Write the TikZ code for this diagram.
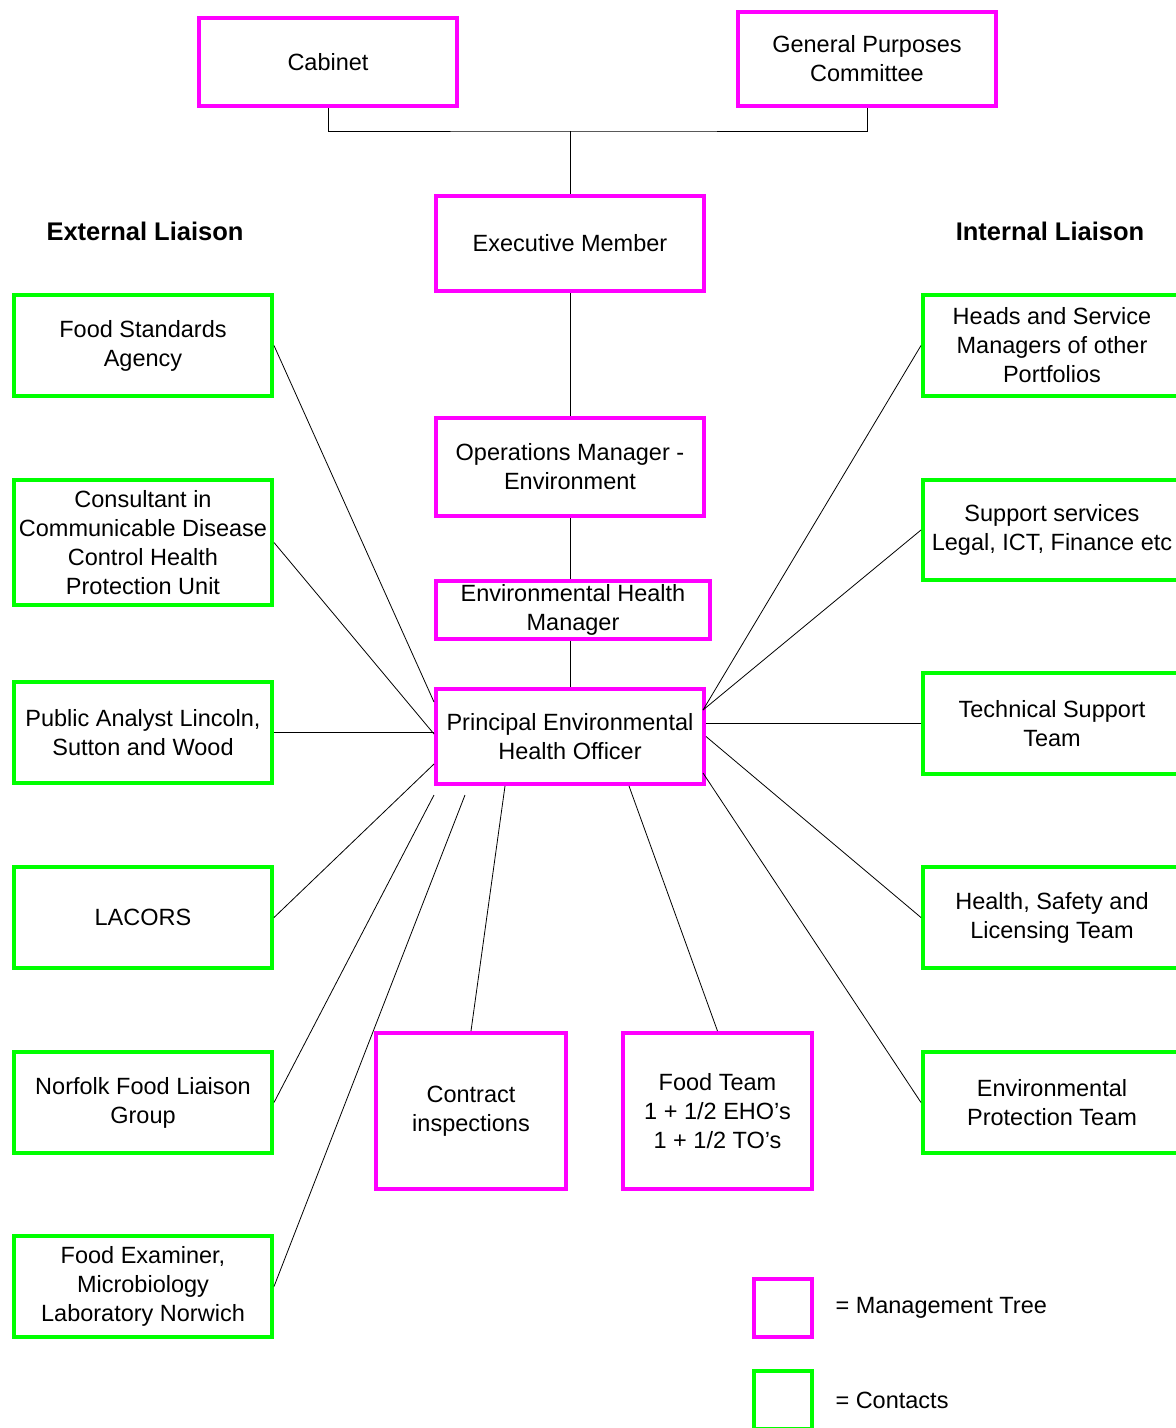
\documentclass[tikz,border=0pt]{standalone}
\usepackage{fontspec}
\setmainfont{Liberation Sans}
\definecolor{mgmtpink}{HTML}{FF00FF}
\definecolor{contactgreen}{HTML}{00FF00}

\begin{document}
\begin{tikzpicture}[x=1pt,y=-1pt,
  mgmt/.style={draw=mgmtpink,line width=4pt,align=center,inner sep=0pt,font=\fontsize{23.5}{29}\selectfont},
  contact/.style={draw=contactgreen,line width=4pt,align=center,inner sep=0pt,minimum width=258pt,font=\fontsize{23.5}{29}\selectfont},
  heading/.style={font=\fontsize{25.5}{30}\selectfont\bfseries},
  link/.style={line width=0.8pt}]
  \useasboundingbox (0,0) rectangle (1176,1428);

  \node[mgmt,minimum width=258pt,minimum height=88pt] (cabinet) at (328,62) {Cabinet};
  \node[mgmt,minimum width=258pt,minimum height=94pt] (gpc) at (867,59) {General Purposes\\Committee};
  \node[mgmt,minimum width=268pt,minimum height=95pt] (exec) at (570,243.5) {Executive Member};
  \node[mgmt,minimum width=268pt,minimum height=98pt] (opsmgr) at (570,467) {Operations Manager -\\Environment};
  \node[mgmt,minimum width=274pt,minimum height=58pt] (ehm) at (573,610) {Environmental Health\\Manager};
  \node[mgmt,minimum width=268pt,minimum height=95pt] (peho) at (570,736.5) {Principal Environmental\\Health Officer};
  \node[mgmt,minimum width=190pt,minimum height=156pt] (contract) at (471,1111) {Contract\\inspections};
  \node[mgmt,minimum width=189pt,minimum height=156pt] (foodteam) at (717.5,1111) {Food Team\\1 + 1/2 EHO's\\1 + 1/2 TO's};

  \node[heading] (extl) at (145,231) {External Liaison};
  \node[heading] (intl) at (1050,231) {Internal Liaison};

  \node[contact,minimum height=101pt] (fsa) at (143,345.5) {Food Standards\\Agency};
  \node[contact,minimum height=125pt] (ccdc) at (143,542.5) {Consultant in\\Communicable Disease\\Control Health\\Protection Unit};
  \node[contact,minimum height=101pt] (analyst) at (143,732.5) {Public Analyst Lincoln,\\Sutton and Wood};
  \node[contact,minimum height=101pt] (lacors) at (143,917.5) {LACORS};
  \node[contact,minimum height=101pt] (norfolk) at (143,1102.5) {Norfolk Food Liaison\\Group};
  \node[contact,minimum height=101pt] (examiner) at (143,1286.5) {Food Examiner,\\Microbiology\\Laboratory Norwich};

  \node[contact,minimum height=101pt] (heads) at (1052,345.5) {Heads and Service\\Managers of other\\Portfolios};
  \node[contact,minimum height=100pt] (support) at (1052,530) {Support services\\Legal, ICT, Finance etc};
  \node[contact,minimum height=101pt] (techteam) at (1052,723.5) {Technical Support\\Team};
  \node[contact,minimum height=101pt] (hslteam) at (1052,917.5) {Health, Safety and\\Licensing Team};
  \node[contact,minimum height=101pt] (envteam) at (1052,1102.5) {Environmental\\Protection Team};

  \node[mgmt,minimum width=58pt,minimum height=58pt] (keymgmt) at (783,1308) {};
  \node[contact,minimum width=58pt,minimum height=58pt] (keycontact) at (783,1400) {};
  \node[anchor=west,font=\fontsize{23.5}{29}\selectfont] (keymgmttext) at (832,1308) {= Management Tree};
  \node[anchor=west,font=\fontsize{23.5}{29}\selectfont] (keycontacttext) at (832,1400) {= Contacts};

  \coordinate (join) at (570,131);
  \draw[link] (cabinet.south) |- (join) -| (gpc.south);
  \draw[link] (join) -- (exec.north);
  \draw[link] (exec.south) -- (opsmgr.north);
  \draw[link] (opsmgr.south) -- (opsmgr.south |- ehm.north);
  \draw[link] (ehm.south -| peho.north) -- (peho.north);

  \draw[link] (fsa.east) -- ([yshift=34.5pt]peho.west);
  \draw[link] (ccdc.east) -- ([yshift=2.5pt]peho.west);
  \draw[link] (analyst.east) -- (analyst.east -| peho.west);
  \draw[link] (lacors.east) -- ([yshift=-27.5pt]peho.west);
  \draw[link] (norfolk.east) -- ([yshift=-9pt]peho.south west);
  \draw[link] (examiner.east) -- ([xshift=31pt,yshift=-9pt]peho.south west);
  \draw[link] (contract.north) -- ([xshift=71pt]peho.south west);
  \draw[link] (foodteam.north) -- ([xshift=195pt]peho.south west);

  \draw[link] (heads.west) -- ([xshift=-3pt,yshift=26.5pt]peho.east);
  \draw[link] (support.west) -- ([xshift=-3pt,yshift=26.5pt]peho.east);
  \draw[link] (techteam.west) -- (techteam.west -| peho.east);
  \draw[link] (hslteam.west) -- (peho.east);
  \draw[link] (envteam.west) -- ([xshift=-3pt,yshift=-36.5pt]peho.east);
\end{tikzpicture}
\end{document}
